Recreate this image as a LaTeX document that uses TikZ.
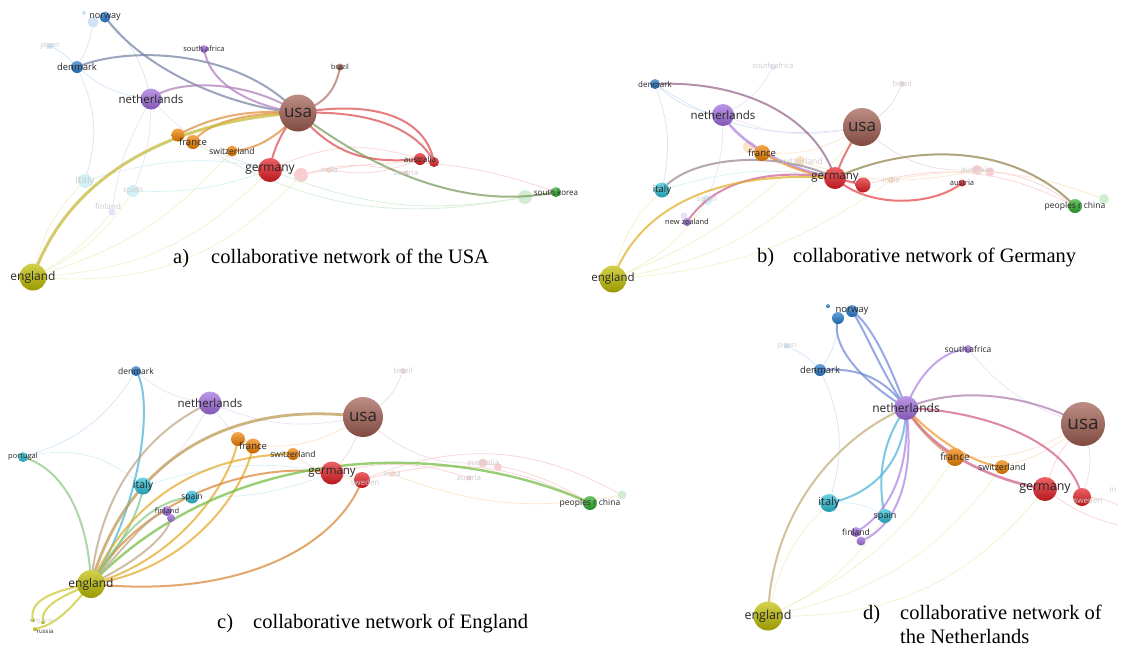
\documentclass[tikz,border=0pt]{standalone}
\usepackage{fontspec}
\setmainfont{Liberation Serif}
\newfontfamily\vosfont{Open Sans}
\usetikzlibrary{backgrounds}
\definecolor{usaC}{RGB}{160,92,80}
\definecolor{nlC}{RGB}{160,108,222}
\definecolor{enC}{RGB}{192,190,0}
\definecolor{deC}{RGB}{228,30,36}
\definecolor{frC}{RGB}{242,130,0}
\definecolor{dkC}{RGB}{38,122,204}
\definecolor{itC}{RGB}{44,192,216}
\definecolor{cnC}{RGB}{44,172,44}

\begin{document}
\begin{tikzpicture}[x=1pt, y=-1pt,
  vnode/.style={circle, inner sep=0pt, draw=none, top color=#1!70!white, bottom color=#1!80!black},
  fadednode/.style={circle, inner sep=0pt, draw=none, fill=#1!22!white},
  lbl/.style={font=\vosfont, text=black!85, inner sep=0pt},
  dimlbl/.style={font=\vosfont, text=black!20, inner sep=0pt},
  tie/.style={draw=#1!85!white, line width=2pt, draw opacity=.72},
  faint/.style={draw=#1!20!white, line width=.7pt},
  capt/.style={font=\fontsize{20.5}{24}\selectfont, anchor=base west, inner sep=0pt}
]
  \useasboundingbox (0,0) rectangle (1125,649);
  \begin{scope}[on background layer]
    \fill[white] (0,0) rectangle (1125,649);
  \end{scope}

  % ---- a) USA ----
  \foreach \n/\x/\y/\d/\c in {usa/298/113/37/usaC, norway/105/17/11/dkC,
      denmark/77/67/12/dkC, southafrica/204/49/8/nlC, brazil/340/67/7/usaC,
      netherlands/151/99/21/nlC, france2/178/135/13/frC, france/193/142/14/frC,
      switzerland/232/151/11/frC, germany/270/170/24/deC,
      australia/420/159/12/deC, australia2/434/162/10/deC,
      southkorea/556/192/10/cnC, england/33/277/27/enC}
    \node[vnode=\c, minimum size=\d pt] (a-\n) at (\x,\y) {};
  \begin{scope}[on background layer]
    \foreach \n/\x/\y/\d/\c in {norway2/93/22/11/dkC, tiny/84/13/4/dkC,
        japan/50/46/6/dkC, italy/85/181/14/itC, spain/133/191/12/itC,
        finland/112/212/7/nlC, sweden/301/175/14/deC, india/329/170/6/frC,
        austria/406/173/5/deC, korea2/525/197/14/cnC}
      \node[fadednode=\c, minimum size=\d pt] (a-\n) at (\x,\y) {};
    \foreach \p/\q/\c/\b in {england/italy/enC/15, england/spain/enC/-15,
        england/germany/enC/-20, england/sweden/enC/-25, england/finland/enC/-10,
        england/switzerland/enC/-15, denmark/italy/dkC/20, denmark/netherlands/dkC/-15,
        norway/netherlands/dkC/15, norway2/denmark/dkC/10, japan/denmark/dkC/10,
        netherlands/spain/nlC/10, netherlands/finland/nlC/-10, netherlands/germany/nlC/-15,
        germany/korea2/cnC/-15, sweden/southkorea/deC/15, sweden/austria/deC/15,
        india/australia/deC/-15, germany/australia/deC/20, italy/sweden/itC/15,
        spain/germany/itC/-10, france/korea2/cnC/-20}
      \draw[faint=\c] (a-\p) to[bend left=\b] (a-\q);
    \draw[tie=dkC!55!usaC] (a-norway.center) .. controls (140,65) and (220,105) .. (a-usa.center);
    \draw[tie=dkC!55!usaC] (a-denmark.center) .. controls (130,45) and (240,50) .. (a-usa.center);
    \draw[tie=nlC!70!usaC] (a-southafrica.center) .. controls (210,85) and (250,105) .. (a-usa.center);
    \draw[tie=nlC!65!usaC] (a-netherlands.center) .. controls (175,78) and (250,80) .. (a-usa.center);
    \draw[tie=usaC] (a-brazil.center) .. controls (335,95) and (320,105) .. (a-usa.center);
    \draw[tie=frC!70!usaC] (a-france2.center) .. controls (220,112) and (260,110) .. (a-usa.center);
    \draw[tie=frC!80!usaC] (a-france.center) .. controls (205,125) and (240,112) .. (a-usa.center);
    \draw[tie=frC!70!usaC] (a-switzerland.center) .. controls (260,150) and (285,130) .. (a-usa.center);
    \draw[tie=deC!70!usaC] (a-germany.center) .. controls (272,150) and (285,125) .. (a-usa.center);
    \draw[tie=deC!80!usaC] (a-usa.center) .. controls (370,100) and (425,115) .. (a-australia2.center);
    \draw[tie=deC!80!usaC] (a-usa.center) .. controls (362,110) and (415,125) .. (a-australia2.center);
    \draw[tie=deC!85!usaC] (a-usa.center) .. controls (330,150) and (360,165) .. (a-australia.center);
    \draw[tie=usaC!45!cnC] (a-usa.center) .. controls (380,175) and (470,210) .. (a-southkorea.center);
    \draw[tie=enC!80!usaC, line width=3pt] (a-england.center) .. controls (70,170) and (180,120) .. (a-usa.center);
  \end{scope}
  \foreach \n/\t/\s in {usa/usa/17, norway/norway/9, denmark/denmark/9.5,
      southafrica/south africa/7.5, brazil/brazil/7, netherlands/netherlands/11.5,
      france/france/9.5, switzerland/switzerland/8.5, germany/germany/12,
      australia/australia/8, southkorea/south korea/8, england/england/12}
    \node[lbl] (a-\n-t) at (a-\n) {\fontsize{\s}{\s}\selectfont\t};
  \foreach \n/\x/\y/\s in {japan/50/46/7.5, italy/85/181/10, spain/133/191/8,
      finland/108/206/8, india/329/170/7.5, austria/406/173/7.5}
    \node[dimlbl] (a-\n-t) at (\x,\y) {\fontsize{\s}{\s}\selectfont\n};
  \node[capt] (a-cap) at (173,263) {a)};
  \node[capt] (a-title) at (211,263) {collaborative network of the USA};

  % ---- b) Germany ----
  \foreach \n/\x/\y/\d/\c in {usa/862/127/38/usaC, denmark/655/84/10/dkC,
      netherlands/723/115/22/nlC, france/762/153/16/frC, germany/835/178/22/deC,
      sweden/863/185/15/deC, italy/662/190/15/itC, newzealand/687/222/8/nlC,
      austria/962/183/7/deC, china/1075/206/14/cnC, england/613/279/27/enC}
    \node[vnode=\c, minimum size=\d pt] (b-\n) at (\x,\y) {};
  \begin{scope}[on background layer]
    \foreach \n/\x/\y/\d/\c in {southafrica/773/67/6/nlC, brazil/902/84/6/usaC,
        france2/749/147/12/frC, switzerland/800/161/10/frC, spain/707/200/10/itC,
        nz2/684/216/7/nlC, india/891/180/7/frC, australia/977/170/10/deC,
        australia2/990/172/9/deC, china2/1104/199/10/cnC}
      \node[fadednode=\c, minimum size=\d pt] (b-\n) at (\x,\y) {};
    \foreach \p/\q/\c/\b in {england/italy/enC/15, england/spain/enC/-15,
        england/switzerland/enC/-10, england/usa/enC/-20, england/india/enC/-15,
        denmark/italy/dkC/15, denmark/netherlands/dkC/-15, denmark/usa/dkC/-20,
        netherlands/spain/nlC/10, netherlands/usa/nlC/-15, italy/sweden/itC/15,
        usa/australia/usaC/-20, usa/brazil/usaC/-15, sweden/china/deC/20,
        india/china2/frC/15, australia/china/deC/15, southafrica/netherlands/nlC/15,
        france/usa/frC/-15, switzerland/australia/frC/-15}
      \draw[faint=\c] (b-\p) to[bend left=\b] (b-\q);
    \draw[tie=dkC!50!deC] (b-denmark.center) .. controls (740,80) and (815,115) .. (b-germany.center);
    \draw[tie=nlC, line width=2.6pt] (b-netherlands.center) .. controls (740,145) and (790,170) .. (b-germany.center);
    \draw[tie=frC] (b-france.center) .. controls (790,168) and (810,175) .. (b-germany.center);
    \draw[tie=itC!50!deC] (b-italy.center) .. controls (690,155) and (780,150) .. (b-germany.center);
    \draw[tie=nlC!50!deC] (b-newzealand.center) .. controls (715,180) and (770,168) .. (b-germany.center);
    \draw[tie=enC!50!frC] (b-england.center) .. controls (640,205) and (720,170) .. (b-germany.center);
    \draw[tie=deC!70!usaC] (b-usa.center) .. controls (845,150) and (840,165) .. (b-germany.center);
    \draw[tie=deC] (b-germany.center) .. controls (870,210) and (935,205) .. (b-austria.center);
    \draw[tie=deC!45!cnC] (b-germany.center) .. controls (905,145) and (1010,140) .. (b-china.center);
    \draw[tie=deC] (b-germany.center) -- (b-sweden.center);
  \end{scope}
  \foreach \n/\t/\s in {usa/usa/17, denmark/denmark/8, netherlands/netherlands/11.5,
      france/france/9.5, germany/germany/11.5, italy/italy/9.5,
      newzealand/new zealand/7.5, austria/austria/7.5, china/peoples r china/8.5,
      england/england/11.5}
    \node[lbl] (b-\n-t) at (b-\n) {\fontsize{\s}{\s}\selectfont\t};
  \foreach \n/\t/\x/\y/\s in {southafrica/south africa/773/66/7.5, brazil/brazil/902/84/7.5,
      switzerland/switzerland/800/161/8.5, spain/spain/707/200/8, india/india/891/180/7.5,
      australia/australia/977/169/8}
    \node[dimlbl] (b-\n-t) at (\x,\y) {\fontsize{\s}{\s}\selectfont\t};
  \node[capt] (b-cap) at (757,262) {b)};
  \node[capt] (b-title) at (793,262) {collaborative network of Germany};

  % ---- c) England ----
  \foreach \n/\x/\y/\d/\c in {usa/363/417/40/usaC, denmark/136/371/10/dkC,
      netherlands/210/403/23/nlC, portugal/23/457/10/itC, italy/143/486/17/itC,
      spain/192/497/13/itC, finland/167/511/10/nlC, finland2/171/518/8/nlC,
      france2/238/439/14/frC, france/253/446/15/frC, switzerland/293/454/12/frC,
      germany/332/473/23/deC, sweden/362/480/16/deC, china/590/503/14/cnC,
      england/91/584/28/enC, singapore/33/620/4/enC, singapore2/43/622/4/enC,
      russia/35/629/4/enC}
    \node[vnode=\c, minimum size=\d pt] (c-\n) at (\x,\y) {};
  \begin{scope}[on background layer]
    \foreach \n/\x/\y/\d/\c in {brazil/403/371/6/usaC, india/392/474/6/frC,
        australia/483/463/9/deC, australia2/498/467/8/deC, austria/469/478/5/deC,
        china2/622/495/9/cnC}
      \node[fadednode=\c, minimum size=\d pt] (c-\n) at (\x,\y) {};
    \foreach \p/\q/\c/\b in {netherlands/usa/nlC/-15, netherlands/denmark/nlC/15,
        netherlands/france/nlC/-10, denmark/portugal/dkC/20, portugal/italy/itC/25,
        italy/sweden/itC/15, usa/brazil/usaC/-15, usa/australia/usaC/-20,
        usa/germany/usaC/10, sweden/china/deC/20, germany/austria/deC/15,
        india/china2/frC/-15, australia/china/deC/10, switzerland/sweden/frC/-15,
        france/usa/frC/-15, spain/germany/itC/-10, netherlands/italy/nlC/10,
        sweden/china2/deC/25}
      \draw[faint=\c] (c-\p) to[bend left=\b] (c-\q);
    \draw[tie=itC!50!enC] (c-england.center) .. controls (88,510) and (60,468) .. (c-portugal.center);
    \draw[tie=itC!60!dkC] (c-england.center) .. controls (140,510) and (155,400) .. (c-denmark.center);
    \draw[tie=itC!60!enC] (c-england.center) .. controls (125,540) and (140,510) .. (c-italy.center);
    \draw[tie=nlC!50!enC] (c-england.center) .. controls (100,490) and (150,430) .. (c-netherlands.center);
    \draw[tie=usaC!60!enC, line width=2.8pt] (c-england.center) .. controls (130,450) and (240,400) .. (c-usa.center);
    \draw[tie=frC!60!enC] (c-england.center) .. controls (180,560) and (232,480) .. (c-france2.center);
    \draw[tie=frC!60!enC] (c-england.center) .. controls (190,570) and (245,490) .. (c-france.center);
    \draw[tie=frC!60!enC] (c-england.center) .. controls (130,500) and (200,455) .. (c-switzerland.center);
    \draw[tie=deC!50!enC] (c-england.center) .. controls (140,500) and (250,460) .. (c-germany.center);
    \draw[tie=cnC!70!enC, line width=2.4pt] (c-england.center) .. controls (230,440) and (450,440) .. (c-china.center);
    \draw[tie=deC!50!enC] (c-england.center) .. controls (250,600) and (340,540) .. (c-sweden.center);
    \draw[tie=itC!50!enC] (c-england.center) .. controls (130,520) and (160,500) .. (c-spain.center);
    \draw[tie=nlC!50!enC] (c-england.center) .. controls (130,540) and (150,515) .. (c-finland.center);
    \draw[tie=nlC!50!enC] (c-england.center) .. controls (140,560) and (168,535) .. (c-finland2.center);
    \draw[tie=enC] (c-england.center) .. controls (55,590) and (28,600) .. (c-singapore.center);
    \draw[tie=enC] (c-england.center) .. controls (65,595) and (40,605) .. (c-singapore2.center);
    \draw[tie=enC] (c-england.center) .. controls (70,610) and (55,625) .. (c-russia.center);
  \end{scope}
  \foreach \n/\t/\s in {usa/usa/17, denmark/denmark/8.5, netherlands/netherlands/11.5,
      portugal/portugal/7.5, italy/italy/10.5, spain/spain/8.5, finland/finland/7.5,
      france/france/9.5, switzerland/switzerland/8.5, germany/germany/11.5,
      china/peoples r china/8.5, england/england/12}
    \node[lbl] (c-\n-t) at (c-\n) {\fontsize{\s}{\s}\selectfont\t};
  \node[lbl] (c-russia-t) at (45,631) {\fontsize{6}{6}\selectfont russia};
  \foreach \n/\x/\y/\s in {singapore/43/621/6, brazil/403/371/7.5, india/392/474/7.5,
      australia/483/462/8, austria/469/478/7.5, sweden/365/482/8}
    \node[dimlbl] (c-\n-t) at (\x,\y) {\fontsize{\s}{\s}\selectfont\n};
  \node[capt] (c-cap) at (217,628) {c)};
  \node[capt] (c-title) at (253,628) {collaborative network of England};

  % ---- d) the Netherlands ----
  \foreach \n/\x/\y/\d/\c in {usa/1083/424/44/usaC, norway/852/311/12/dkC,
      norway2/838/318/12/dkC, norway3/828/306/4/dkC, denmark/820/370/12/dkC,
      southafrica/968/349/8/nlC, netherlands/906/408/24/nlC, france/955/457/18/frC,
      switzerland/1002/467/14/frC, germany/1045/489/24/deC, sweden/1082/497/18/deC,
      italy/829/503/18/itC, spain/885/516/14/itC, finland/856/532/10/nlC,
      finland2/861/541/9/nlC, england/768/616/29/enC}
    \node[vnode=\c, minimum size=\d pt] (d-\n) at (\x,\y) {};
  \coordinate (d-east) at (1118,505);
  \coordinate (d-east2) at (1118,525);
  \begin{scope}[on background layer]
    \node[fadednode=dkC, minimum size=5pt] (d-japan) at (787,346) {};
    \foreach \p/\q/\c/\b in {england/italy/enC/15, england/spain/enC/-15,
        england/france/enC/-15, england/switzerland/enC/-20, england/germany/enC/-25,
        denmark/italy/dkC/20, japan/denmark/dkC/10, norway2/denmark/dkC/15,
        italy/spain/itC/15, france/usa/frC/-15, switzerland/usa/frC/-10,
        usa/sweden/usaC/15, germany/usa/deC/10, southafrica/usa/nlC/-15,
        sweden/east/deC/10, germany/east2/deC/-10}
      \draw[faint=\c] (d-\p) to[bend left=\b] (d-\q);
    \draw[tie=dkC!60!nlC] (d-netherlands.center) .. controls (860,380) and (830,345) .. (d-norway2.center);
    \draw[tie=dkC!60!nlC] (d-netherlands.center) .. controls (880,370) and (865,330) .. (d-norway.center);
    \draw[tie=dkC!60!nlC] (d-netherlands.center) .. controls (890,365) and (872,325) .. (d-norway.center);
    \draw[tie=dkC!60!nlC] (d-netherlands.center) .. controls (880,372) and (850,368) .. (d-denmark.center);
    \draw[tie=nlC] (d-netherlands.center) .. controls (920,370) and (945,350) .. (d-southafrica.center);
    \draw[tie=nlC!55!usaC] (d-netherlands.center) .. controls (960,385) and (1030,395) .. (d-usa.center);
    \draw[tie=nlC!40!deC] (d-netherlands.center) .. controls (980,410) and (1070,440) .. (d-sweden.center);
    \draw[tie=deC!55!nlC, line width=2.6pt] (d-netherlands.center) .. controls (930,450) and (990,480) .. (d-germany.center);
    \draw[tie=frC!55!nlC, line width=3pt] (d-netherlands.center) .. controls (920,430) and (940,450) .. (d-france.center);
    \draw[tie=frC] (d-netherlands.center) .. controls (940,445) and (980,465) .. (d-switzerland.center);
    \draw[tie=itC!60!dkC] (d-netherlands.center) .. controls (905,465) and (870,495) .. (d-italy.center);
    \draw[tie=dkC!40!itC] (d-netherlands.center) .. controls (875,450) and (880,495) .. (d-spain.center);
    \draw[tie=nlC] (d-netherlands.center) .. controls (910,460) and (895,510) .. (d-finland.center);
    \draw[tie=nlC] (d-netherlands.center) .. controls (915,470) and (900,525) .. (d-finland2.center);
    \draw[tie=nlC!40!enC] (d-netherlands.center) .. controls (850,430) and (772,500) .. (d-england.center);
  \end{scope}
  \foreach \n/\t/\s in {usa/usa/19, norway/norway/9.5, southafrica/south africa/8.5,
      denmark/denmark/9.5, netherlands/netherlands/12, france/france/10,
      switzerland/switzerland/9, germany/germany/12.5, italy/italy/11,
      spain/spain/9, finland/finland/8.5, england/england/12.5}
    \node[lbl] (d-\n-t) at (d-\n) {\fontsize{\s}{\s}\selectfont\t};
  \foreach \n/\t/\x/\y/\s in {japan/japan/787/346/7.5, sweden/sweden/1088/500/8,
      india/in/1113/490/8}
    \node[dimlbl] (d-\n-t) at (\x,\y) {\fontsize{\s}{\s}\selectfont\t};
  \node[capt] (d-cap) at (863,619) {d)};
  \node[capt] (d-title) at (900,619) {collaborative network of};
  \node[capt] (d-title2) at (900,643) {the Netherlands};
\end{tikzpicture}
\end{document}
